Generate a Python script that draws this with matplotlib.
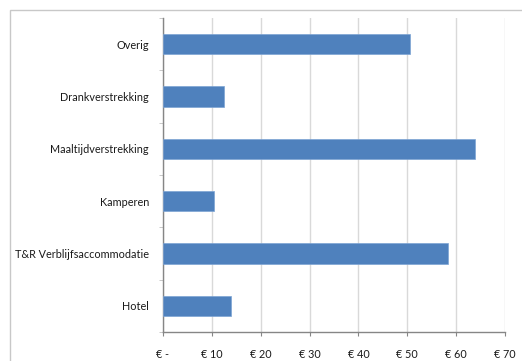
import matplotlib.pyplot as plt
from matplotlib.patches import Rectangle
import numpy as np

# Average spend per category (euro)
categories = ["Hotel", "T&R Verblijfsaccommodatie", "Kamperen",
              "Maaltijdverstrekking", "Drankverstrekking", "Overig"]
values = [13.9, 58.4, 10.5, 63.9, 12.4, 50.5]
xticks = [0, 10, 20, 30, 40, 50, 60, 70]
xtick_labels = ["€ -", "€ 10", "€ 20", "€ 30", "€ 40", "€ 50", "€ 60", "€ 70"]

plt.rcParams['font.family'] = ['Lato', 'DejaVu Sans']

W, H = 522, 361
fig = plt.figure(figsize=(W / 100, H / 100), dpi=100)

# chart area border
fig.patches.append(Rectangle((10 / W, -0.1), 1.2, (H - 10) / H + 0.1,
                             transform=fig.transFigure, fill=False,
                             edgecolor="#c8c8c8", linewidth=1.0))

ax = fig.add_axes([163 / W, 1 - 332 / H, (505 - 163) / W, (332 - 18) / H])
y = np.arange(len(categories))
ax.barh(y, values, height=0.39, color="#4f81bd", edgecolor="#7da4d4",
        linewidth=0.5, zorder=3)

ax.set_xlim(0, 70)
ax.set_ylim(-0.5, len(categories) - 0.5)
ax.set_xticks(xticks)
ax.set_xticklabels(xtick_labels, fontsize=7.8, color="#1a1a1a")
ax.set_yticks(y)
ax.set_yticklabels(categories, fontsize=7.8, color="#1a1a1a")
ax.tick_params(axis="y", length=0, pad=10)
ax.tick_params(axis="x", length=3, color="#868686", pad=9)

# category separator ticks on the y axis
ax.set_yticks(np.arange(-0.5, len(categories), 1), minor=True)
ax.tick_params(axis="y", which="minor", length=3, color="#c0c0c0")

ax.grid(axis="x", color="#d9d9d9", linewidth=1.0, zorder=0)
for side in ["top", "right"]:
    ax.spines[side].set_visible(False)
for side in ["left", "bottom"]:
    ax.spines[side].set_color("#868686")
    ax.spines[side].set_linewidth(1.0)

fig.savefig("out.png", dpi=100)
